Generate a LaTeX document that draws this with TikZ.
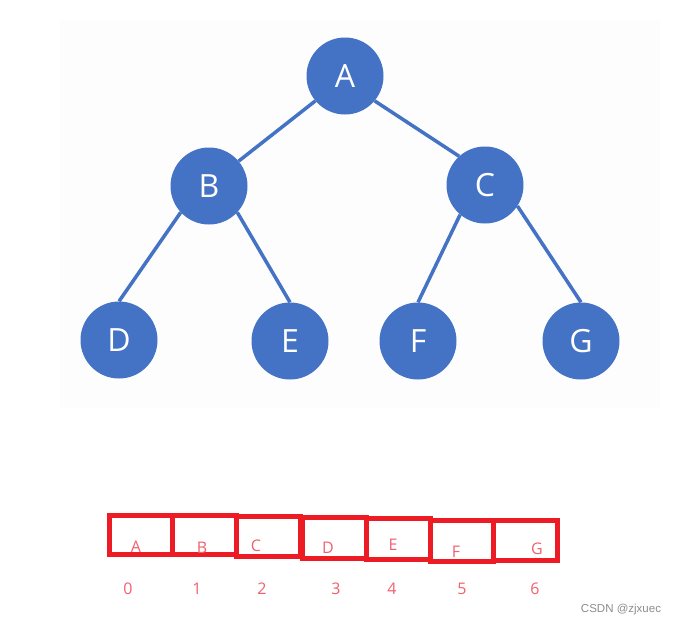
\documentclass[tikz,border=0pt]{standalone}
\usepackage{fontspec}
\setmainfont{Open Sans}
\newfontfamily\wmfont{Liberation Sans}
\definecolor{nodeblue}{HTML}{4472C4}
\definecolor{boxred}{HTML}{ED1C24}
\definecolor{txtpink}{HTML}{F0606E}
\definecolor{wmgray}{HTML}{8C8C8C}
\definecolor{panelbg}{HTML}{FDFDFD}
\begin{document}
\begin{tikzpicture}[x=1pt,y=-1pt,
  treenode/.style={circle,fill=nodeblue,minimum size=77pt,inner sep=0pt,text=white,font=\fontsize{32}{34}\selectfont},
  edge/.style={draw=nodeblue,line width=3.5pt},
  cell/.style={draw=boxred,line width=5pt},
  celltxt/.style={text=txtpink,font=\fontsize{16}{18}\selectfont,inner sep=0pt},
  idxtxt/.style={text=txtpink,font=\fontsize{16}{18}\selectfont,inner sep=0pt}]
\useasboundingbox (0,0) rectangle (676,626);
\fill[panelbg] (60,20) rectangle (660,408);
% tree nodes
\node[treenode] (A) at (345,76) {A};
\node[treenode] (B) at (209,186) {B};
\node[treenode] (C) at (485,185) {C};
\node[treenode] (D) at (119,340) {D};
\node[treenode] (E) at (290,341) {E};
\node[treenode] (F) at (418,341) {F};
\node[treenode] (G) at (581,341) {G};
% edges
\draw[edge] (A.-140) -- (B.40);
\draw[edge] (A.-40) -- (C.132);
\draw[edge] (B.-137) -- (D.north);
\draw[edge] (B.-43) -- (E.north);
\draw[edge] (C.-130) -- (F.north);
\draw[edge] (C.-33) -- (G.north);
% array cells
\draw[cell] (109,515) rectangle (172,554);
\draw[cell] (172,515) rectangle (236,554);
\draw[cell] (236,516) rectangle (300,556);
\draw[cell] (302,517) rectangle (366,558);
\draw[cell] (366,518) rectangle (430,559);
\draw[cell] (430,520) rectangle (493,561);
\draw[cell] (493,520) rectangle (557,560);
% cell texts
\node[celltxt] (cA) at (136,547) {A};
\node[celltxt] (cB) at (202,548) {B};
\node[celltxt] (cC) at (256,546) {C};
\node[celltxt] (cD) at (328,548) {D};
\node[celltxt] (cE) at (393,545) {E};
\node[celltxt] (cF) at (456,552) {F};
\node[celltxt] (cG) at (537,549) {G};
% indices
\node[idxtxt] (i0) at (128,589) {0};
\node[idxtxt] (i1) at (197,589) {1};
\node[idxtxt] (i2) at (262,589) {2};
\node[idxtxt] (i3) at (336,589) {3};
\node[idxtxt] (i4) at (392,589) {4};
\node[idxtxt] (i5) at (462,589) {5};
\node[idxtxt] (i6) at (535,589) {6};
% watermark
\node[text=wmgray,font=\wmfont\fontsize{11.5}{13}\selectfont,inner sep=0pt] (wm) at (621,610) {CSDN @zjxuec};
\end{tikzpicture}
\end{document}
